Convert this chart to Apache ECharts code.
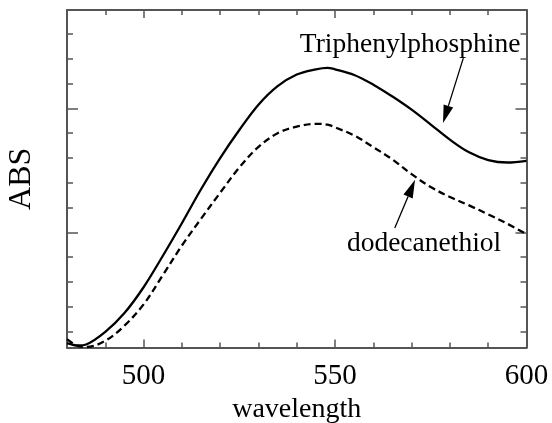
<!DOCTYPE html>
<html>
<head>
<meta charset="utf-8">
<script src="https://cdn.jsdelivr.net/npm/echarts@6/dist/echarts.min.js"></script>
<style>
  html, body { margin: 0; padding: 0; background: #fff; }
  #chart { width: 552px; height: 423px; }
</style>
</head>
<body>
<div id="chart"></div>
<script>
// Absorbance spectra (arbitrary units) of particles capped with two ligands
const wavelength = [480, 483, 485, 490, 495, 500, 505, 510, 515, 520, 525, 530, 535, 540, 545, 548, 550, 555, 560, 565, 570, 575, 580, 585, 590, 595, 600];
const triphenylphosphine = [0.054, 0.044, 0.048, 0.099, 0.175, 0.279, 0.405, 0.537, 0.674, 0.800, 0.913, 1.015, 1.090, 1.137, 1.158, 1.164, 1.158, 1.135, 1.096, 1.048, 0.995, 0.935, 0.874, 0.823, 0.792, 0.782, 0.789];
const dodecanethiol = [0.070, 0.041, 0.038, 0.063, 0.124, 0.210, 0.327, 0.447, 0.555, 0.660, 0.762, 0.845, 0.900, 0.927, 0.938, 0.935, 0.924, 0.891, 0.844, 0.794, 0.735, 0.683, 0.643, 0.609, 0.573, 0.535, 0.493];

// Axis ticks
const xMajorTicks = [500, 550, 600];
const xMinorTicks = [490, 510, 520, 530, 540, 560, 570, 580, 590];
const xTickLabels = [500, 550, 600];
const yMajorTicks = [0.5, 1.0];
const yMinorTicks = [0.1, 0.2, 0.3, 0.4, 0.6, 0.7, 0.8, 0.9, 1.1, 1.2, 1.3];

// Annotation texts, anchors and arrows (data coordinates)
const labelTexts = ['Triphenylphosphine', 'dodecanethiol'];
const labelAnchors = [[598.4, 1.226], [553.1, 0.423]];
const labelAlign = ['right', 'left'];
const arrowTails = [[583.5, 1.203], [565.6, 0.518]];
const arrowTips = [[578.2, 0.941], [570.9, 0.712]];

const FONT = '"Liberation Serif", "Times New Roman", "DejaVu Serif", serif';
const FRAME = '#555';

const chart = echarts.init(document.getElementById('chart'), null, { renderer: 'canvas' });

function xAxis(position, ticks, len, withLine, withLabels, name) {
  return {
    type: 'value', position: position, min: 480, max: 600,
    axisLine: { show: withLine, onZero: false, lineStyle: { color: FRAME, width: 2 } },
    axisTick: { show: true, inside: true, length: len, customValues: ticks, lineStyle: { color: FRAME, width: 1.5 } },
    axisLabel: withLabels ? { show: true, customValues: xTickLabels, fontFamily: FONT, fontSize: 29, color: '#000', margin: 14 } : { show: false },
    splitLine: { show: false },
    name: name || '', nameLocation: 'middle', nameGap: 48,
    nameTextStyle: { fontFamily: FONT, fontSize: 28, color: '#000' }
  };
}
function yAxis(position, ticks, len, withLine, name) {
  return {
    type: 'value', position: position, min: 0.036, max: 1.397,
    axisLine: { show: withLine, onZero: false, lineStyle: { color: FRAME, width: 2 } },
    axisTick: { show: true, inside: true, length: len, customValues: ticks, lineStyle: { color: FRAME, width: 1.5 } },
    axisLabel: { show: false },
    splitLine: { show: false },
    name: name || '', nameLocation: 'middle', nameGap: 29, nameRotate: 90,
    nameTextStyle: { fontFamily: FONT, fontSize: 32, color: '#000' }
  };
}

chart.setOption({
  animation: false,
  backgroundColor: '#fff',
  grid: { left: 67, right: 25.5, top: 10, bottom: 75.5, containLabel: false, outerBoundsMode: 'none' },
  xAxis: [
    xAxis('bottom', xMajorTicks, 8, true, true, 'wavelength'),
    xAxis('bottom', xMinorTicks, 5, false, false),
    xAxis('top', xMajorTicks, 8, true, false),
    xAxis('top', xMinorTicks, 5, false, false)
  ],
  yAxis: [
    yAxis('left', yMajorTicks, 11, true, 'ABS'),
    yAxis('left', yMinorTicks, 6, false),
    yAxis('right', yMajorTicks, 11, true),
    yAxis('right', yMinorTicks, 6, false)
  ],
  series: [
    {
      name: 'Triphenylphosphine', type: 'line', xAxisIndex: 0, yAxisIndex: 0,
      data: wavelength.map((w, i) => [w, triphenylphosphine[i]]),
      showSymbol: false, smooth: 0.35,
      lineStyle: { color: '#000', width: 2.3 }
    },
    {
      name: 'dodecanethiol', type: 'line', xAxisIndex: 0, yAxisIndex: 0,
      data: wavelength.map((w, i) => [w, dodecanethiol[i]]),
      showSymbol: false, smooth: 0.35,
      lineStyle: { color: '#000', width: 2.3, type: [7, 4] }
    }
  ]
});

// Labels and arrows placed through the series' coordinate system
function px(p) { return chart.convertToPixel({ seriesIndex: 0 }, p); }
const elements = [];
labelTexts.forEach((t, i) => {
  const a = px(labelAnchors[i]);
  elements.push({
    type: 'text', x: a[0], y: a[1] + 6, silent: true,
    style: { text: t, fill: '#000', font: '27.5px ' + FONT, textAlign: labelAlign[i], textVerticalAlign: 'bottom' }
  });
  const s = px(arrowTails[i]);
  const e = px(arrowTips[i]);
  const dx = e[0] - s[0], dy = e[1] - s[1];
  const L = Math.hypot(dx, dy), ux = dx / L, uy = dy / L;
  const headLen = 18, headHalf = 5;
  const bx = e[0] - ux * headLen, by = e[1] - uy * headLen;
  elements.push({
    type: 'line', silent: true,
    shape: { x1: s[0], y1: s[1], x2: bx, y2: by },
    style: { stroke: '#000', lineWidth: 1.3 }
  });
  elements.push({
    type: 'polygon', silent: true,
    shape: { points: [[e[0], e[1]], [bx - uy * headHalf, by + ux * headHalf], [bx + uy * headHalf, by - ux * headHalf]] },
    style: { fill: '#000' }
  });
});
chart.setOption({ graphic: elements });
</script>
</body>
</html>
